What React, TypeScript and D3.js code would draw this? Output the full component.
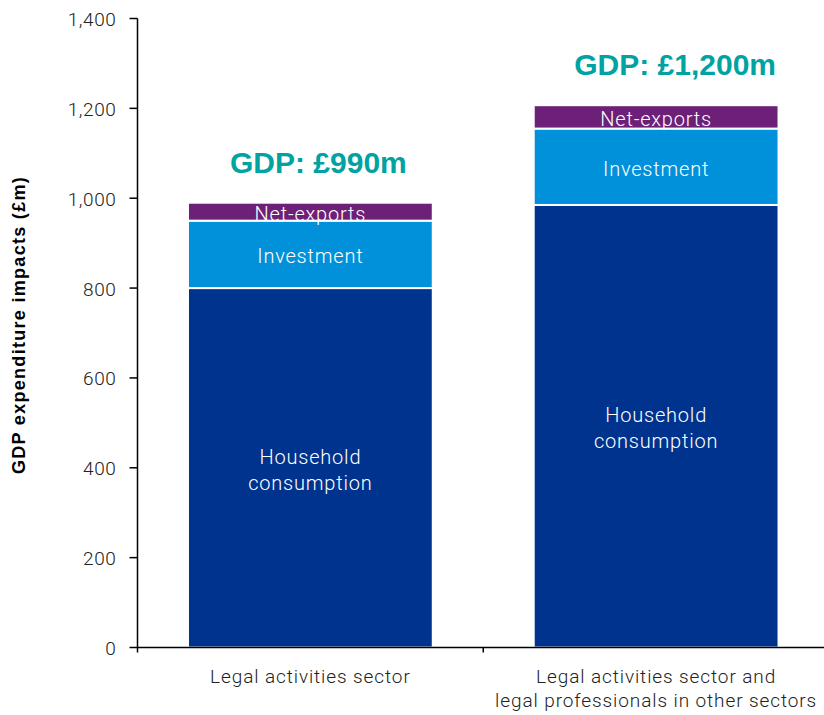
import React from "react";
import * as d3 from "d3";

const categories = ["Legal activities sector", "Legal activities sector and legal professionals in other sectors"];
const categoryLines = [["Legal activities sector"], ["Legal activities sector and", "legal professionals in other sectors"]];
const seriesNames = ["Household consumption", "Investment", "Net-exports"];
const seriesLabelLines = [["Household", "consumption"], ["Investment"], ["Net-exports"]];
const household = [800, 985];
const investment = [150, 170];
const netExports = [40, 52];
const totalLabels = ["GDP: £990m", "GDP: £1,200m"];
const yTicks = [0, 200, 400, 600, 800, 1000, 1200, 1400];
const yTitle = "GDP expenditure impacts (£m)";
const colors = ["#00338D", "#0091DA", "#6D2077"];

const W = 824, H = 715;
const margin = { left: 137.5, right: -5, top: 18.5, bottom: 67.5 };

export default function App() {
  const x = d3.scaleBand<string>().domain(categories).range([margin.left, W - margin.right]).paddingInner(0.292).paddingOuter(0.146);
  const xOuter = d3.scaleBand<string>().domain(categories).range([margin.left, W - margin.right]);
  const y = d3.scaleLinear().domain([0, 1400]).range([H - margin.bottom, margin.top]);
  const rows = categories.map((c, i) => ({ cat: c, h: household[i], inv: investment[i], ne: netExports[i] }));
  const stack = d3.stack<any>().keys(["h", "inv", "ne"])(rows);
  const font = "'Liberation Sans', Arial, sans-serif";
  const light = "Roboto, 'Liberation Sans', sans-serif";

  return (
    <svg width={W} height={H} style={{ position: "absolute", left: 0, top: 0, background: "#fff" }}>
      {stack.map((layer, si) => (
        <g key={si}>
          {layer.map((d, i) => (
            <rect key={i} x={x(categories[i])} width={x.bandwidth()} y={y(d[1])} height={y(d[0]) - y(d[1])}
              fill={colors[si]} stroke="#fff" strokeWidth={2} />
          ))}
        </g>
      ))}
      {stack.map((layer, si) => layer.map((d, i) => {
        const cx = x(categories[i])! + x.bandwidth() / 2;
        const mid = (y(d[0]) + y(d[1])) / 2;
        const lines = seriesLabelLines[si];
        const lh = 25.5;
        return (
          <text key={`${si}-${i}`} x={cx} textAnchor="middle" fill="#fff" fontFamily={light} fontWeight={300}
            fontSize={20} letterSpacing={0.8}>
            {lines.map((l, li) => (
              <tspan key={li} x={cx} y={mid + (li - (lines.length - 1) / 2) * lh + 9}>{l}</tspan>
            ))}
          </text>
        );
      }))}
      {totalLabels.map((t, i) => {
        const top = y(household[i] + investment[i] + netExports[i]);
        return (
          <text key={t} x={x(categories[i])! + x.bandwidth() / 2 + (i === 0 ? 8 : 19)} y={top - 30}
            textAnchor="middle" fill="#00A3A1" fontFamily={font} fontWeight="bold" fontSize={30}>{t}</text>
        );
      })}
      {/* y axis */}
      <line x1={margin.left} x2={margin.left} y1={y(1400)} y2={y(0) + 5} stroke="#000" strokeWidth={1.5} />
      {yTicks.map(t => (
        <g key={t}>
          <line x1={margin.left - 8} x2={margin.left} y1={y(t)} y2={y(t)} stroke="#000" strokeWidth={1.5} />
          <text x={margin.left - 21} y={y(t) + 7.5} textAnchor="end" fontFamily={light} fontWeight={300}
            fontSize={19} letterSpacing={0.6} fill="#222">{d3.format(",")(t)}</text>
        </g>
      ))}
      {/* x axis */}
      <line x1={margin.left} x2={W} y1={y(0)} y2={y(0)} stroke="#000" strokeWidth={1.5} />
      {categories.map((c) => (
        <line key={c} x1={xOuter(c)! + xOuter.bandwidth()} x2={xOuter(c)! + xOuter.bandwidth()} y1={y(0)} y2={y(0) + 5} stroke="#000" strokeWidth={1.5} />
      ))}
      {categories.map((c, i) => {
        const cx = x(c)! + x.bandwidth() / 2;
        return (
          <text key={c} textAnchor="middle" fontFamily={light} fontWeight={300} fontSize={19} letterSpacing={0.9} fill="#222">
            {categoryLines[i].map((l, li) => (
              <tspan key={li} x={cx} y={y(0) + 35.5 + li * 24}>{l}</tspan>
            ))}
          </text>
        );
      })}
      <text transform={`translate(25, 325) rotate(-90)`} textAnchor="middle"
        fontFamily={font} fontWeight="bold" fontSize={18} letterSpacing={1.3} fill="#000">{yTitle}</text>
    </svg>
  );
}
